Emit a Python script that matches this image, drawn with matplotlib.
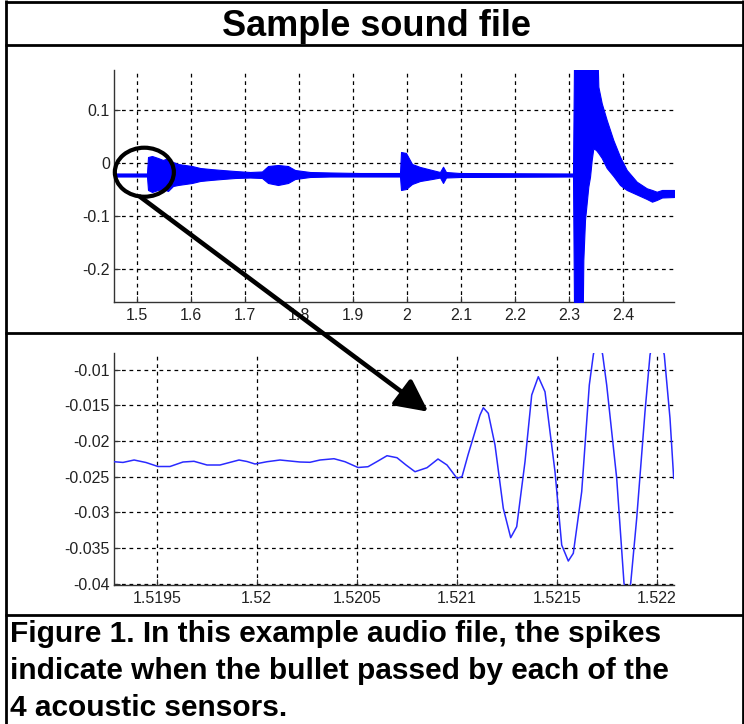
import matplotlib
matplotlib.use('Agg')
import matplotlib.pyplot as plt
from matplotlib.patches import Ellipse, ConnectionPatch, ArrowStyle
from matplotlib.lines import Line2D

# ---------------- data ----------------
# Top panel: envelope of the recorded waveform (time in s, upper/lower amplitude)
top_time = [1.4574, 1.5185, 1.5204, 1.5278, 1.5389, 1.5481, 1.5574, 1.5667, 1.5759, 1.5889,
            1.6019, 1.6167, 1.6352, 1.6574, 1.6815, 1.7093, 1.7315, 1.7426, 1.7611, 1.7796,
            1.7926, 1.8204, 1.8574, 1.9130, 1.9870, 1.9889, 1.9981, 2.0093, 2.0241, 2.0463,
            2.0611, 2.0667, 2.0722, 2.0981, 2.3074, 2.3102, 2.3241, 2.3265, 2.3296, 2.3357,
            2.3389, 2.3420, 2.3450, 2.3500, 2.3543, 2.3606, 2.3698, 2.3820, 2.3944, 2.4069,
            2.4254, 2.4439, 2.4537, 2.4624, 2.4722, 2.4944]
top_upper = [-0.0198, -0.0198, 0.0113, 0.0132, 0.0094, 0.0057, 0.0094, 0.0019, -0.0019, -0.0038,
             -0.0057, -0.0094, -0.0113, -0.0132, -0.0151, -0.0170, -0.0160, -0.0057, -0.0038, -0.0057,
             -0.0132, -0.0170, -0.0179, -0.0189, -0.0189, 0.0208, 0.0189, -0.0019, -0.0075, -0.0132,
             -0.0170, -0.0070, -0.0170, -0.0189, -0.0198, 0.30, 0.30, 0.30, 0.30, 0.30,
             0.30, 0.30, 0.30, 0.30, 0.1440, 0.1126, 0.0811, 0.0434, 0.0119, -0.0132,
             -0.0353, -0.0477, -0.0509, -0.0542, -0.0509, -0.0509]
top_lower = [-0.0255, -0.0255, -0.0509, -0.0547, -0.0509, -0.0491, -0.0528, -0.0434, -0.0415, -0.0396,
             -0.0377, -0.0340, -0.0321, -0.0302, -0.0283, -0.0274, -0.0283, -0.0377, -0.0415, -0.0377,
             -0.0302, -0.0264, -0.0255, -0.0255, -0.0255, -0.0509, -0.0491, -0.0396, -0.0340, -0.0302,
             -0.0274, -0.0377, -0.0274, -0.0264, -0.0255, -0.40, -0.40, -0.1830, -0.1075, -0.0447,
             -0.0258, 0.0057, 0.0277, 0.0245, 0.0189, 0.0094, -0.0094, -0.0245, -0.0415, -0.0509,
             -0.0594, -0.0679, -0.0730, -0.0698, -0.0651, -0.0642]

# Bottom panel: zoomed samples around the first spike
zoom_time = [1.5192865, 1.5193315, 1.519387, 1.5194465, 1.5195065, 1.5195665, 1.5196315, 1.5196865,
             1.5197515, 1.5198165, 1.5199115, 1.5199515, 1.5199915, 1.5200515, 1.5201165, 1.5202165,
             1.5202665, 1.5203165, 1.5203865, 1.5204415, 1.5205065, 1.5205565, 1.5206065, 1.5206515,
             1.5207015, 1.5207465, 1.5207915, 1.5208515, 1.5209065, 1.5209515, 1.5209815, 1.5210015,
             1.5210265, 1.5210565, 1.5210915, 1.5211165, 1.521133, 1.521158, 1.5211915, 1.521233,
             1.52127, 1.5213, 1.5213415, 1.521375, 1.521408, 1.5214415, 1.5214915, 1.521525,
             1.521558, 1.521583, 1.521625, 1.521663, 1.521683, 1.5217065, 1.52173, 1.52175,
             1.5218, 1.5218365, 1.521853, 1.52187, 1.5219, 1.5219415, 1.5219665, 1.5220015,
             1.522038, 1.5220665, 1.522085]
zoom_amp = [-0.0229, -0.0230, -0.02266, -0.02301, -0.02357, -0.02357, -0.02294, -0.02284,
            -0.02336, -0.02336, -0.02266, -0.02287, -0.02322, -0.0229, -0.02266, -0.02294,
            -0.02298, -0.02266, -0.02248, -0.0229, -0.02371, -0.0236, -0.0228, -0.02206,
            -0.02234, -0.02336, -0.0243, -0.02374, -0.02252, -0.02336, -0.02448, -0.02522,
            -0.025, -0.02196, -0.0187, -0.01636, -0.01534, -0.01612, -0.02056, -0.02943,
            -0.03354, -0.032, -0.0229, -0.01356, -0.01099, -0.0131, -0.0243, -0.03457,
            -0.03681, -0.03573, -0.0271, -0.01216, -0.00796, -0.00445, -0.00796, -0.01216,
            -0.02522, -0.03993, -0.04157, -0.03993, -0.03083, -0.0159, -0.00796, -0.00305,
            -0.00796, -0.01682, -0.02522]

top_xticks = [1.5, 1.6, 1.7, 1.8, 1.9, 2.0, 2.1, 2.2, 2.3, 2.4]
top_xlabels = ['1.5', '1.6', '1.7', '1.8', '1.9', '2', '2.1', '2.2', '2.3', '2.4']
top_yticks = [-0.2, -0.1, 0.0, 0.1]
top_ylabels = ['-0.2', '-0.1', '0', '0.1']
zoom_xticks = [1.5195, 1.52, 1.5205, 1.521, 1.5215, 1.522]
zoom_xlabels = ['1.5195', '1.52', '1.5205', '1.521', '1.5215', '1.522']
zoom_yticks = [-0.04, -0.035, -0.03, -0.025, -0.02, -0.015, -0.01]
zoom_ylabels = ['-0.04', '-0.035', '-0.03', '-0.025', '-0.02', '-0.015', '-0.01']

title_text = 'Sample sound file'
caption_lines = ['Figure 1. In this example audio file, the spikes',
                 'indicate when the bullet passed by each of the',
                 '4 acoustic sensors.']

# ---------------- layout ----------------
plt.rcParams['font.family'] = ['Liberation Sans', 'DejaVu Sans']
W, H = 744, 724
fig = plt.figure(figsize=(W / 100, H / 100), dpi=100)
fig.patch.set_facecolor('white')


def fx(px):
    return px / W


def fy(py):
    return 1 - py / H


ax1 = fig.add_axes([fx(114), fy(302), (674 - 114) / W, (302 - 70) / H])
ax2 = fig.add_axes([fx(114), fy(585), (674 - 114) / W, (585 - 353) / H])


def style(ax):
    for s in ['top', 'right']:
        ax.spines[s].set_visible(False)
    for s in ['left', 'bottom']:
        ax.spines[s].set_color('#333333')
        ax.spines[s].set_linewidth(1.0)
    ax.grid(True, color='black', linestyle=(0, (3, 3)), linewidth=0.9, zorder=1)
    ax.tick_params(direction='in', length=4, width=0.8, colors='#333333',
                   labelsize=11.5, labelcolor='#222222')
    ax.tick_params(axis='x', pad=4)
    ax.tick_params(axis='y', pad=3)


# top panel
ax1.fill_between(top_time, top_lower, top_upper, color='#0000ff', linewidth=0.8,
                 edgecolor='#0000ff', zorder=3)
ax1.set_xlim(1.4574, 2.4944)
ax1.set_ylim(-0.2623, 0.1755)
ax1.set_xticks(top_xticks, top_xlabels)
ax1.set_yticks(top_yticks, top_ylabels)
style(ax1)

# circle around the first spike
ell = Ellipse((1.5136, -0.0174), width=0.1093, height=0.0925, fill=False,
              edgecolor='black', linewidth=3, zorder=5, clip_on=False)
ax1.add_patch(ell)

# bottom panel
ax2.plot(zoom_time, zoom_amp, color='#2a2aff', linewidth=1.1, zorder=3)
ax2.set_xlim(1.5192865, 1.5220865)
ax2.set_ylim(-0.04017, -0.00767)
ax2.set_xticks(zoom_xticks, zoom_xlabels)
ax2.set_yticks(zoom_yticks, zoom_ylabels)
style(ax2)

# arrow from the circled area to the zoomed view
arrow = ConnectionPatch(xyA=(1.5056, -0.0636), coordsA=ax1.transData,
                        xyB=(1.520858, -0.0159), coordsB=ax2.transData,
                        arrowstyle=ArrowStyle('-|>', head_length=1.5, head_width=0.75),
                        mutation_scale=13, linewidth=3.3, color='black',
                        shrinkA=0, shrinkB=0, zorder=10)
fig.add_artist(arrow)

# table borders
bw = 2.0
for (x0, y0, x1, y1) in [(5, 1.5, 743, 1.5), (5, 45, 743, 45), (5, 333, 743, 333),
                         (5, 615, 743, 615), (6, 0, 6, 724), (742.5, 0, 742.5, 724)]:
    fig.add_artist(Line2D([fx(x0), fx(x1)], [fy(y0), fy(y1)], color='black',
                          linewidth=bw, transform=fig.transFigure, solid_capstyle='butt'))

fig.text(fx(376), fy(36.5), title_text, ha='center', va='baseline',
         fontsize=26, fontweight='bold', color='black')

for i, line in enumerate(caption_lines):
    fig.text(fx(10), fy(642 + 37 * i), line, ha='left', va='baseline',
             fontsize=21.5, fontweight='bold', color='black')

fig.savefig('out.png', dpi=100, facecolor='white')
